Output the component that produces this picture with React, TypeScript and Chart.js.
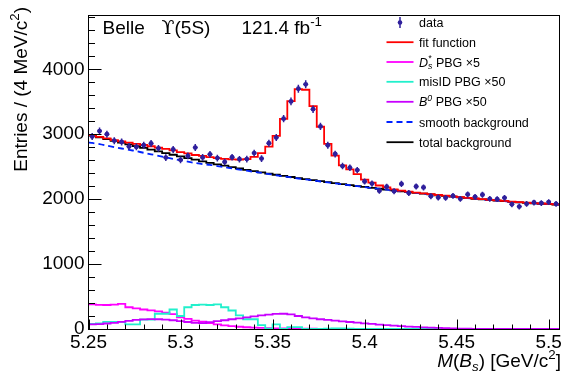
import React, { useEffect, useRef } from 'react';
import { Chart, registerables } from 'chart.js';

Chart.register(...registerables);

// ---- axis / binning ----
const BIN_LO = 5.25;
const BIN_W = 0.004;
const X_MAX = 5.506;
const Y_MAX = 4830;

const xTickValues = [5.25, 5.3, 5.35, 5.4, 5.45, 5.5];
const xTickLabels = ['5.25', '5.3', '5.35', '5.4', '5.45', '5.5'];
const yTickValues = [0, 1000, 2000, 3000, 4000];
const yTickLabels = ['0', '1000', '2000', '3000', '4000'];

// ---- series (per 4 MeV bin, 64 bins from 5.250 to 5.506) ----
const dataCounts = [
  2965, 3048, 3000, 2900, 2880, 2810, 2805, 2830, 2858, 2782, 2640, 2765, 2605, 2665, 2795, 2643,
  2690, 2633, 2573, 2645, 2615, 2617, 2710, 2625, 2862, 2948, 3240, 3505, 3700, 3768, 3385, 3120,
  2830, 2695, 2510, 2485, 2447, 2272, 2240, 2128, 2192, 2123, 2235, 2095, 2195, 2180, 2045, 2025,
  2020, 2050, 2005, 2072, 2035, 2068, 2005, 2000, 2020, 1920, 1885, 1928, 1948, 1940, 1955, 1928,
];

const fitFunction = [
  2985, 2960, 2935, 2910, 2890, 2870, 2850, 2835, 2815, 2795, 2775, 2750, 2725, 2705, 2680, 2665,
  2648, 2632, 2620, 2613, 2610, 2615, 2650, 2710, 2810, 2975, 3235, 3510, 3695, 3685, 3432, 3115,
  2850, 2670, 2520, 2460, 2385, 2300, 2255, 2210, 2180, 2150, 2130, 2115, 2100, 2088, 2076, 2064,
  2053, 2042, 2031, 2020, 2010, 2000, 1990, 1981, 1972, 1963, 1955, 1947, 1940, 1933, 1927, 1921,
];

const totalBackground = [
  2978, 2950, 2925, 2898, 2872, 2845, 2818, 2790, 2763, 2737, 2710, 2684, 2658, 2632, 2608, 2583,
  2560, 2537, 2515, 2493, 2472, 2452, 2432, 2413, 2394, 2376, 2358, 2341, 2324, 2308, 2292, 2276,
  2261, 2246, 2231, 2216, 2202, 2188, 2174, 2160, 2147, 2134, 2121, 2108, 2096, 2084, 2072, 2060,
  2049, 2038, 2027, 2016, 2006, 1996, 1986, 1977, 1968, 1959, 1951, 1943, 1936, 1929, 1923, 1917,
];

// smooth background sampled at bin centres, plus its values at the two range edges
const smoothBackground = [
  2865, 2848, 2825, 2802, 2780, 2760, 2738, 2714, 2691, 2667, 2643, 2620, 2598, 2577, 2557, 2540,
  2528, 2510, 2492, 2473, 2455, 2438, 2420, 2404, 2387, 2368, 2351, 2335, 2318, 2303, 2288, 2272,
  2258, 2243, 2228, 2214, 2200, 2186, 2172, 2159, 2146, 2133, 2120, 2107, 2095, 2083, 2072, 2060,
  2049, 2038, 2027, 2016, 2006, 1996, 1986, 1977, 1968, 1959, 1951, 1943, 1936, 1929, 1923, 1917,
];
const smoothBackgroundEdges = [2872, 1914];

const dsStarPBGx5 = [
  378, 372, 370, 374, 388, 335, 318, 300, 288, 272, 250, 228, 180, 155, 130, 112,
  90, 72, 55, 45, 35, 27, 20, 16, 13, 11, 9, 7, 6, 5, 4, 3,
  3, 2, 2, 2, 1, 1, 1, 1, 0, 0, 0, 0, 0, 0, 0, 0,
  0, 0, 0, 0, 0, 0, 0, 0, 0, 0, 0, 0, 0, 0, 0, 0,
];

const misIdPBGx50 = [
  80, 85, 110, 110, 110, 70, 70, 145, 145, 235, 235, 300, 200, 335, 370, 375,
  370, 380, 335, 285, 210, 150, 150, 60, 5, 70, 0, 30, 30, 0, 0, 0,
  5, 10, 10, 5, 0, 0, 0, 0, 0, 0, 0, 0, 0, 0, 0, 0,
  0, 0, 0, 0, 0, 0, 0, 0, 0, 0, 0, 0, 0, 0, 0, 0,
];

const b0PBGx50 = [
  70, 75, 85, 95, 110, 125, 140, 148, 152, 150, 145, 135, 120, 108, 95, 92,
  105, 120, 135, 150, 165, 180, 195, 210, 222, 232, 235, 225, 200, 180, 163, 150,
  140, 128, 118, 108, 98, 88, 78, 68, 60, 52, 45, 38, 32, 26, 21, 16,
  12, 9, 6, 4, 3, 2, 1, 0, 0, 0, 0, 0, 0, 0, 0, 0,
];

// ---- styles ----
const FONT = "'Liberation Sans', 'DejaVu Sans', Arial, sans-serif";
const SYMBOL_FONT = "'DejaVu Serif', 'DejaVu Sans', serif";
const C_DATA = '#2f1f9c';
const C_FIT = '#ff0000';
const C_DS = '#ff00ff';
const C_MISID = '#22f0cc';
const C_B0 = '#c800ff';
const C_SMOOTH = '#0022ff';
const C_TOTAL = '#000000';

const binCenter = (i: number) => BIN_LO + (i + 0.5) * BIN_W;
const histPoints = (vals: number[]) => {
  const pts: { x: number; y: number }[] = [];
  vals.forEach((v, i) => {
    pts.push({ x: BIN_LO + i * BIN_W, y: v });
    pts.push({ x: BIN_LO + (i + 1) * BIN_W, y: v });
  });
  return pts;
};

type Part = { t: string; it?: boolean; sub?: boolean; sup?: boolean; over?: string; fam?: string };

const partFont = (size: number, p: Part) =>
  `${p.it ? 'italic ' : ''}${p.sub || p.sup ? size * 0.7 : size}px ${p.fam || FONT}`;

function measureParts(ctx: CanvasRenderingContext2D, parts: Part[], size: number) {
  let w = 0;
  for (const p of parts) {
    ctx.font = partFont(size, p);
    let pw = ctx.measureText(p.t).width;
    if (p.over) pw = Math.max(pw, ctx.measureText(p.over).width);
    w += pw;
  }
  return w;
}

function drawParts(ctx: CanvasRenderingContext2D, parts: Part[], x: number, y: number, size: number) {
  let cx = x;
  for (const p of parts) {
    ctx.font = partFont(size, p);
    const dy = p.sup ? -size * 0.42 : p.sub ? size * 0.22 : 0;
    ctx.fillText(p.t, cx, y + dy);
    let pw = ctx.measureText(p.t).width;
    if (p.over) {
      ctx.fillText(p.over, cx, y - size * 0.42);
      pw = Math.max(pw, ctx.measureText(p.over).width);
    }
    cx += pw;
  }
  return cx;
}

const decorPlugin = {
  id: 'decor',
  afterDatasetsDraw(chart: any) {
    const ctx: CanvasRenderingContext2D = chart.ctx;
    const xs = chart.scales.x;
    const ys = chart.scales.y;
    // error bars on data points
    ctx.save();
    ctx.strokeStyle = C_DATA;
    ctx.lineWidth = 1.5;
    dataCounts.forEach((v, i) => {
      const c = binCenter(i);
      const e = Math.sqrt(v);
      const px = xs.getPixelForValue(c);
      const py = ys.getPixelForValue(v);
      ctx.beginPath();
      ctx.moveTo(px, ys.getPixelForValue(v - e));
      ctx.lineTo(px, ys.getPixelForValue(v + e));
      ctx.moveTo(xs.getPixelForValue(c - BIN_W * 0.32), py);
      ctx.lineTo(xs.getPixelForValue(c + BIN_W * 0.32), py);
      ctx.stroke();
    });
    ctx.restore();
  },
  afterDraw(chart: any) {
    const ctx: CanvasRenderingContext2D = chart.ctx;
    const { left, right, top, bottom } = chart.chartArea;
    const xs = chart.scales.x;
    const ys = chart.scales.y;
    ctx.save();
    ctx.strokeStyle = '#000';
    ctx.fillStyle = '#000';
    ctx.lineWidth = 1;
    const L = Math.floor(left) + 0.5, R = Math.floor(right) + 0.5;
    const T = Math.floor(top) + 0.5, B = Math.floor(bottom) + 0.5;
    ctx.strokeRect(L, T, R - L, B - T);
    // ticks
    ctx.beginPath();
    for (let k = 0; k <= 25; k++) {
      const v = BIN_LO + k * 0.01;
      const major = k % 5 === 0;
      const px = Math.round(xs.getPixelForValue(v)) + 0.5;
      ctx.moveTo(px, B);
      ctx.lineTo(px, B - (major ? 10 : 5));
    }
    for (let v = 0; v <= Y_MAX; v += 200) {
      const major = v % 1000 === 0;
      const py = Math.round(ys.getPixelForValue(v)) + 0.5;
      ctx.moveTo(L, py);
      ctx.lineTo(L + (major ? 13 : 6.5), py);
    }
    ctx.stroke();

    ctx.textAlign = 'left';
    ctx.textBaseline = 'alphabetic';
    // title
    drawParts(ctx, [{ t: 'Belle' }], 102.5, 33.5, 19);
    drawParts(ctx, [{ t: '\u03D2', fam: SYMBOL_FONT }, { t: '(5S)' }], 161.5, 33.5, 19);
    drawParts(ctx, [{ t: '121.4 fb' }, { t: '-1', sup: true }], 241.5, 33.5, 19);

    // x title
    const xt: Part[] = [
      { t: 'M', it: true }, { t: '(' }, { t: 'B', it: true }, { t: 's', it: true, sub: true },
      { t: ')' }, { t: ' [GeV/c' }, { t: '2', sup: true }, { t: ']' },
    ];
    const xw = measureParts(ctx, xt, 19);
    drawParts(ctx, xt, 561 - xw, 367, 19);

    // y title
    const yt: Part[] = [{ t: 'Entries / (4 MeV/c' }, { t: '2', sup: true }, { t: ')' }];
    const yw = measureParts(ctx, yt, 19);
    ctx.save();
    ctx.translate(26.5, 7);
    ctx.rotate(-Math.PI / 2);
    drawParts(ctx, yt, -yw, 0, 19);
    ctx.restore();

    // legend
    const LS = 12.5;
    const lx0 = 386.5, lx1 = 413.5, tx = 419;
    function line(y: number, color: string, dash: number[]) {
      ctx.strokeStyle = color; ctx.lineWidth = 1.8; ctx.setLineDash(dash);
      ctx.beginPath(); ctx.moveTo(lx0, y); ctx.lineTo(lx1, y); ctx.stroke();
      ctx.setLineDash([]);
    }
    const rows: { y: number; parts: Part[]; draw: (y: number) => void }[] = [
      {
        y: 22.5, parts: [{ t: 'data' }],
        draw: (y) => {
          ctx.strokeStyle = C_DATA; ctx.fillStyle = C_DATA; ctx.lineWidth = 1.5;
          ctx.beginPath(); ctx.moveTo(400, y - 5.5); ctx.lineTo(400, y + 5.5); ctx.stroke();
          ctx.beginPath(); ctx.arc(400, y, 2.3, 0, Math.PI * 2); ctx.fill();
        },
      },
      { y: 42.2, parts: [{ t: 'fit function' }], draw: (y) => line(y, C_FIT, []) },
      {
        y: 62, parts: [{ t: 'D', it: true }, { t: 's', it: true, sub: true, over: '*' }, { t: ' PBG \u00d75' }],
        draw: (y) => line(y, C_DS, []),
      },
      { y: 81.8, parts: [{ t: 'misID PBG \u00d750' }], draw: (y) => line(y, C_MISID, []) },
      {
        y: 101.8, parts: [{ t: 'B', it: true }, { t: '0', it: true, sup: true }, { t: ' PBG \u00d750' }],
        draw: (y) => line(y, C_B0, []),
      },
      { y: 122, parts: [{ t: 'smooth background' }], draw: (y) => line(y, C_SMOOTH, [6, 4]) },
      { y: 142.2, parts: [{ t: 'total background' }], draw: (y) => line(y, C_TOTAL, []) },
    ];
    rows.forEach((r) => {
      ctx.save();
      r.draw(r.y);
      ctx.restore();
      ctx.fillStyle = '#000';
      drawParts(ctx, r.parts, tx, r.y + 4.5, LS);
    });
    ctx.restore();
  },
};

export default function App() {
  const ref = useRef<HTMLCanvasElement | null>(null);
  useEffect(() => {
    if (!ref.current) return;
    const stepDs = (label: string, vals: number[], color: string, width = 1.8) => ({
      type: 'line' as const,
      label,
      data: histPoints(vals),
      borderColor: color,
      borderWidth: width,
      pointRadius: 0,
      fill: false,
      tension: 0,
    });
    const smoothData = [
      { x: BIN_LO, y: smoothBackgroundEdges[0] },
      ...smoothBackground.map((v, i) => ({ x: binCenter(i), y: v })),
      { x: X_MAX, y: smoothBackgroundEdges[1] },
    ];
    const chart = new Chart(ref.current, {
      type: 'line',
      data: {
        datasets: [
          {
            type: 'scatter',
            label: 'data',
            data: dataCounts.map((v, i) => ({ x: binCenter(i), y: v })),
            pointRadius: 2.4,
            pointBackgroundColor: C_DATA,
            pointBorderWidth: 0,
            showLine: false,
          } as any,
          stepDs('fit function', fitFunction, C_FIT),
          {
            type: 'line',
            label: 'smooth background',
            data: smoothData,
            borderColor: C_SMOOTH,
            borderWidth: 1.8,
            borderDash: [6, 4],
            pointRadius: 0,
            fill: false,
            tension: 0.3,
          },
          stepDs('total background', totalBackground, C_TOTAL),
          stepDs('B0 PBG x50', b0PBGx50, C_B0),
          stepDs('misID PBG x50', misIdPBGx50, C_MISID),
          stepDs('Ds* PBG x5', dsStarPBGx5, C_DS),
        ],
      },
      options: {
        animation: false,
        responsive: false,
        maintainAspectRatio: false,
        devicePixelRatio: 1,
        parsing: false as any,
        normalized: true,
        layout: { padding: { top: 7, right: 2, left: 0, bottom: 0 } },
        plugins: { legend: { display: false }, tooltip: { enabled: false } },
        scales: {
          x: {
            type: 'linear',
            min: BIN_LO,
            max: X_MAX,
            grid: { display: false, drawTicks: false },
            border: { display: false },
            afterFit: (s: any) => { s.height = 44; },
            afterBuildTicks: (s: any) => { s.ticks = xTickValues.map((v) => ({ value: v })); },
            ticks: {
              autoSkip: false,
              maxRotation: 0,
              padding: 2,
              color: '#000',
              font: { family: FONT, size: 19 },
              callback: (v: any) => {
                const i = xTickValues.findIndex((t) => Math.abs(t - Number(v)) < 1e-9);
                return i >= 0 ? xTickLabels[i] : '';
              },
            },
          },
          y: {
            type: 'linear',
            min: 0,
            max: Y_MAX,
            grid: { display: false, drawTicks: false },
            border: { display: false },
            afterFit: (s: any) => { s.width = 88.5; },
            afterBuildTicks: (s: any) => { s.ticks = yTickValues.map((v) => ({ value: v })); },
            ticks: {
              padding: 4,
              color: '#000',
              font: { family: FONT, size: 19 },
              callback: (v: any) => {
                const i = yTickValues.findIndex((t) => Math.abs(t - Number(v)) < 1e-9);
                return i >= 0 ? yTickLabels[i] : '';
              },
            },
          },
        },
      },
      plugins: [decorPlugin],
    });
    return () => chart.destroy();
  }, []);

  return (
    <div style={{ position: 'absolute', left: 0, top: 0, width: 564, height: 373, background: '#fff' }}>
      <canvas ref={ref} width={564} height={373} style={{ display: 'block', width: 564, height: 373 }} />
    </div>
  );
}
